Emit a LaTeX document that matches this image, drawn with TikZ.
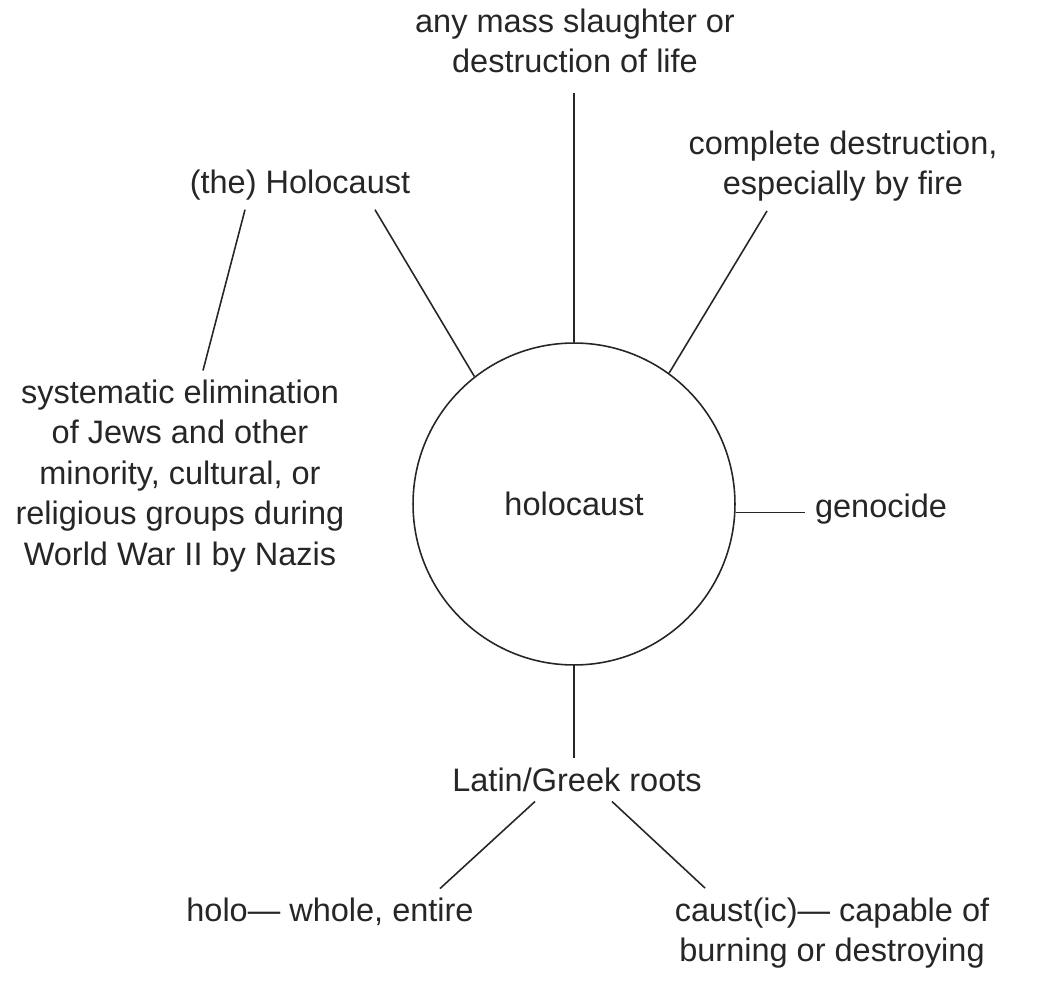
\documentclass[tikz,border=0pt]{standalone}
\usepackage{fontspec}
\setmainfont{Liberation Sans}
\begin{document}
\begin{tikzpicture}[x=0.02cm,y=-0.02cm,
    line width=0.9pt,draw=black!85,
    word/.style={align=center,inner sep=5pt,text=black!85,font=\fontsize{18.5}{23}\selectfont},
    hub/.style={word,circle,draw,minimum size=6.44cm,inner sep=0pt}]
  \useasboundingbox (0,0) rectangle (1042,993);
  \node[hub]  (circ)  at (574,504) {holocaust};
  \node[word] (mass)  at (575,41)  {any mass slaughter or\\destruction of life};
  \node[word] (fire)  at (843,166) {complete destruction,\\especially by fire};
  \node[word] (hol)   at (300,185) {(the) Holocaust};
  \node[word] (sys)   at (180,476) {systematic elimination\\of Jews and other\\minority, cultural, or\\religious groups during\\World War II by Nazis};
  \node[word] (geno)  at (881,509) {genocide};
  \node[word] (roots) at (577,780) {Latin/Greek roots};
  \node[word] (holo)  at (330,912) {holo--- whole, entire};
  \node[word] (caust) at (832,933) {caust(ic)--- capable of\\burning or destroying};
  \draw (circ.north) -- ([yshift=-0.2cm]circ.north |- mass.south);
  \draw (circ.128.5) -- ([xshift=1.5cm]hol.south);
  \draw ([xshift=-1.1cm]hol.south) -- ([xshift=0.46cm]sys.north);
  \draw (circ.54.5) -- ([xshift=-1.52cm]fire.south);
  \draw (circ.-3) -- (circ.-3 -| geno.west);
  \draw (circ.south) -- (circ.south |- roots.north);
  \draw ([xshift=-0.84cm]roots.south) -- ([xshift=2.2cm]holo.north);
  \draw ([xshift=0.7cm]roots.south) -- ([xshift=-2.54cm]caust.north);
\end{tikzpicture}
\end{document}
